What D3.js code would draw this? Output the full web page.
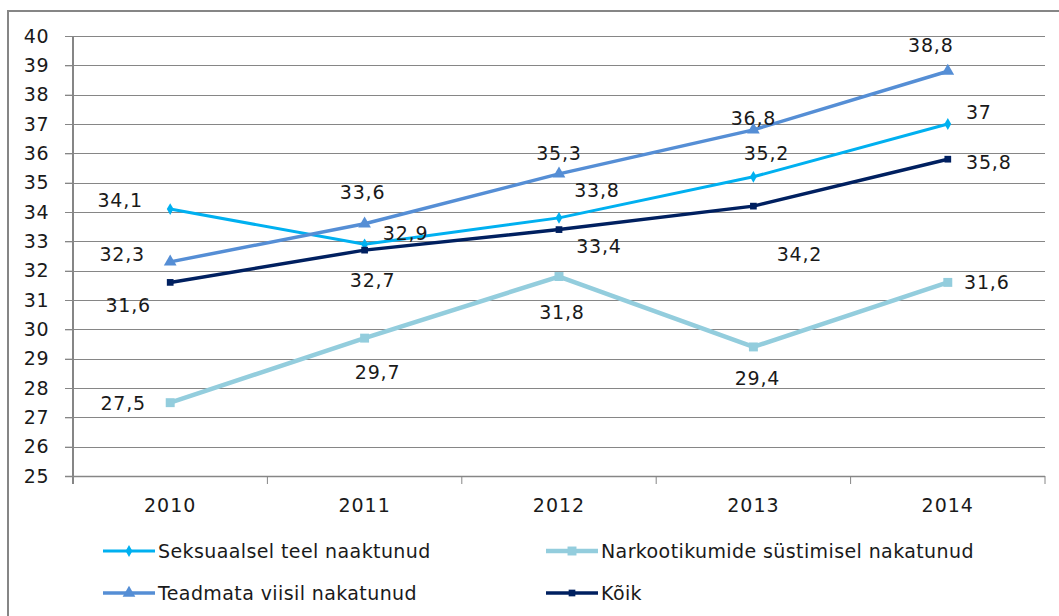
<!DOCTYPE html>
<html>
<head>
<meta charset="utf-8">
<script src="https://cdn.jsdelivr.net/npm/d3@7.9.0/dist/d3.min.js"></script>
<style>
  body { margin: 0; background: #fff; }
  svg text { font-family: 'DejaVu Sans', sans-serif; fill: #1a1a1a; }
</style>
</head>
<body>
<svg id="chart" width="1059" height="616"></svg>
<script>
// ========================
// Data
// ========================
const years = ['2010', '2011', '2012', '2013', '2014'];
const yTicks = [25, 26, 27, 28, 29, 30, 31, 32, 33, 34, 35, 36, 37, 38, 39, 40];

const seksuaalsel = [34.1, 32.9, 33.8, 35.2, 37];
const narkootikumid = [27.5, 29.7, 31.8, 29.4, 31.6];
const teadmata = [32.3, 33.6, 35.3, 36.8, 38.8];
const koik = [31.6, 32.7, 33.4, 34.2, 35.8];

const seriesNames = [
  'Seksuaalsel teel naaktunud',
  'Narkootikumide süstimisel nakatunud',
  'Teadmata viisil nakatunud',
  'Kõik',
];

// label offsets (px) from each point, hand placed like in the original
const labelOffsets = {
  sek: [[-50, -9], [41, -11], [38, -28], [13, -24], [31, -12]],
  nark: [[-47, 0], [13, 34], [3, 36], [4, 31], [39, 0]],
  tead: [[-48, -8], [-2, -32], [0, -21], [0, -12], [-17, -26]],
  koik: [[-42, 23], [8, 30], [40, 17], [46, 48], [41, 3]],
};

const series = [
  { key: 'sek', name: seriesNames[0], values: seksuaalsel, color: '#00b0f0', width: 3, symbol: d3.symbolDiamond, size: 40 },
  { key: 'nark', name: seriesNames[1], values: narkootikumid, color: '#93cddd', width: 4.5, symbol: d3.symbolSquare, size: 80 },
  { key: 'tead', name: seriesNames[2], values: teadmata, color: '#558ed5', width: 3.5, symbol: d3.symbolTriangle, size: 70 },
  { key: 'koik', name: seriesNames[3], values: koik, color: '#002060', width: 3.5, symbol: d3.symbolSquare, size: 45 },
];

// ========================
// Layout
// ========================
const svg = d3.select('#chart');
const plot = { left: 73, right: 1045, top: 36, bottom: 476 };
const gridColor = '#868686';

// outer frame (right and bottom edges fall outside the picture)
svg.append('rect')
  .attr('x', 8).attr('y', 11)
  .attr('width', 1100).attr('height', 700)
  .attr('fill', 'none')
  .attr('stroke', gridColor)
  .attr('stroke-width', 2);

const x = d3.scaleBand().domain(years).range([plot.left, plot.right]);
const y = d3.scaleLinear().domain([25, 40]).range([plot.bottom, plot.top]);
const cx = (i) => x(years[i]) + x.bandwidth() / 2;

// gridlines
svg.append('g')
  .selectAll('line')
  .data(yTicks)
  .join('line')
  .attr('x1', plot.left - 8)
  .attr('x2', plot.right)
  .attr('y1', (d) => Math.round(y(d)) + 0.5)
  .attr('y2', (d) => Math.round(y(d)) + 0.5)
  .attr('stroke', gridColor)
  .attr('stroke-width', (d) => (d === 25 ? 1.5 : 1));

// y axis
const yAxis = svg.append('g')
  .attr('transform', `translate(${plot.left},0)`)
  .call(d3.axisLeft(y).tickValues(yTicks).tickSize(8).tickPadding(16));
yAxis.select('.domain').attr('stroke', gridColor).attr('stroke-width', 2)
  .attr('d', `M0,${plot.top}V${plot.bottom + 8}`);
yAxis.selectAll('.tick line').attr('stroke', gridColor);
yAxis.selectAll('.tick text')
  .style('font-size', '19px')
  .style('letter-spacing', '0.5px')
  .attr('fill', '#1a1a1a');

// x axis
const xAxis = svg.append('g')
  .attr('transform', `translate(0,${plot.bottom})`);
xAxis.selectAll('line')
  .data(d3.range(years.length + 1))
  .join('line')
  .attr('x1', (i) => plot.left + i * x.bandwidth())
  .attr('x2', (i) => plot.left + i * x.bandwidth())
  .attr('y1', 0).attr('y2', 8)
  .attr('stroke', gridColor);
xAxis.selectAll('text')
  .data(years)
  .join('text')
  .attr('x', (d) => x(d) + x.bandwidth() / 2)
  .attr('y', 36)
  .attr('text-anchor', 'middle')
  .style('font-size', '19px')
  .style('letter-spacing', '1px')
  .text((d) => d);

// lines
const line = d3.line()
  .x((d, i) => cx(i))
  .y((d) => y(d));

const sg = svg.append('g')
  .selectAll('g')
  .data(series)
  .join('g');

sg.append('path')
  .attr('d', (s) => line(s.values))
  .attr('fill', 'none')
  .attr('stroke', (s) => s.color)
  .attr('stroke-width', (s) => s.width)
  .attr('stroke-linejoin', 'round');

sg.each(function (s) {
  const g = d3.select(this);
  g.selectAll('path.marker')
    .data(s.values)
    .join('path')
    .attr('class', 'marker')
    .attr('transform', (d, i) => `translate(${cx(i)},${y(d)})`)
    .attr('d', d3.symbol().type(s.symbol).size(s.size))
    .attr('fill', s.color);
});

// data labels
sg.each(function (s) {
  d3.select(this)
    .selectAll('text')
    .data(s.values)
    .join('text')
    .attr('x', (d, i) => cx(i) + labelOffsets[s.key][i][0])
    .attr('y', (d, i) => y(d) + labelOffsets[s.key][i][1])
    .attr('dy', '0.36em')
    .attr('text-anchor', 'middle')
    .style('font-size', '19px')
    .style('letter-spacing', '0.8px')
    .text((d) => String(d).replace('.', ','));
});

// legend
const legendPos = [
  [103, 551], [546, 551],
  [103, 593], [546, 593],
];
const lg = svg.append('g')
  .selectAll('g')
  .data(series)
  .join('g')
  .attr('transform', (s, i) => `translate(${legendPos[i][0]},${legendPos[i][1]})`);

lg.append('line')
  .attr('x1', 0).attr('x2', 52)
  .attr('stroke', (s) => s.color)
  .attr('stroke-width', (s) => s.width);
lg.append('path')
  .attr('transform', 'translate(26,0)')
  .attr('d', (s) => d3.symbol().type(s.symbol).size(s.size)())
  .attr('fill', (s) => s.color);
lg.append('text')
  .attr('x', 55)
  .attr('dy', '0.36em')
  .style('font-size', '19px')
  .style('letter-spacing', '0.4px')
  .text((s) => s.name);
</script>
</body>
</html>
